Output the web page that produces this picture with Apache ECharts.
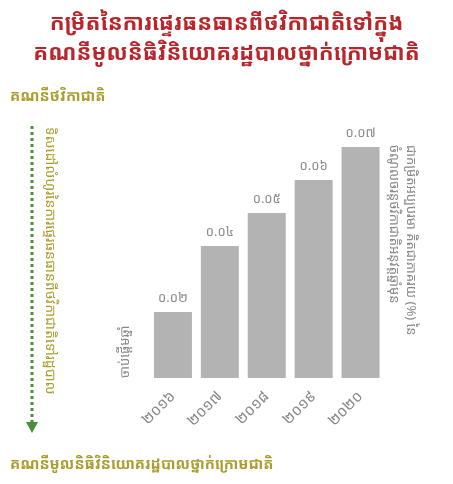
<!DOCTYPE html>
<html><head><meta charset="utf-8">
<script src="https://cdn.jsdelivr.net/npm/echarts@6/dist/echarts.min.js"></script>
<style>html,body{margin:0;padding:0;background:#fff}#c{width:453px;height:484px}</style>
</head><body><div id="c"></div>
<script>
const titleLines = ['កម្រិតនៃការផ្ទេរធនធានពីថវិកាជាតិទៅក្នុង', 'គណនីមូលនិធិវិនិយោគរដ្ឋបាលថ្នាក់ក្រោមជាតិ'];
const topLabel = 'គណនីថវិកាជាតិ';
const bottomLabel = 'គណនីមូលនិធិវិនិយោគរដ្ឋបាលថ្នាក់ក្រោមជាតិ';
const flowLabel = 'ទិសដៅលំហូរនៃការផ្ទេរធនធានពីថវិកាជាតិទៅរដ្ឋបាល';
const startLabel = 'ចាប់ផ្ដើមឆ្នាំ';
const unitLines = ['ជាកម្រិតអប្បបរមា គិតជាភាគរយ (%) នៃ', 'ចំណូលចរន្តថវិកាជាតិអនុវត្តឆ្នាំមុន'];
const categories = ['2016', '2017', '2018', '2019', '2020'];
const values = [0.02, 0.04, 0.05, 0.06, 0.07];

const KD = '០១២៣៤៥៦៧៨៩';
const kh = s => String(s).replace(/[0-9]/g, d => KD[+d]);
const FONT = '"Noto Sans Khmer","Khmer OS","Khmer OS System","Noto Sans",sans-serif';
const olive = '#a99d2e';

const chart = echarts.init(document.getElementById('c'), null, {renderer: 'canvas'});
chart.setOption({
  backgroundColor: '#fff',
  animation: false,
  title: {
    text: titleLines.join('\n'),
    left: 'center', top: 4,
    textStyle: {fontFamily: FONT, fontSize: 22, fontWeight: 'bold', color: '#b8262b', lineHeight: 30}
  },
  grid: {left: 149.5, right: 453 - 384, top: 147, bottom: 106},
  xAxis: {
    type: 'category', data: categories,
    axisLine: {show: false}, axisTick: {show: false},
    axisLabel: {rotate: 45, color: '#888', fontSize: 15, fontFamily: FONT, margin: 16, formatter: v => kh(v)}
  },
  yAxis: {type: 'value', min: 0, max: 0.07, show: false, splitLine: {show: false}},
  series: [{
    type: 'bar', data: values, barCategoryGap: '19%',
    itemStyle: {color: '#b3b3b3'},
    label: {show: true, position: 'top', distance: 7, color: '#8a8a8a', fontSize: 13, fontFamily: FONT,
      formatter: p => kh(p.value.toFixed(2))}
  }],
  graphic: [
    {type: 'text', left: 10, top: 89, style: {text: topLabel, font: 'bold 15px ' + FONT, fill: olive}},
    {type: 'text', left: 10, top: 457, style: {text: bottomLabel, font: 'bold 15px ' + FONT, fill: olive}},
    {type: 'line', shape: {x1: 32, y1: 126, x2: 32, y2: 424},
      style: {stroke: '#4a8f3c', lineWidth: 3, lineDash: [3, 3]}},
    {type: 'polygon', shape: {points: [[26, 422], [38, 422], [32, 433]]}, style: {fill: '#4a8f3c'}},
    {type: 'text', x: 50, y: 127, rotation: -Math.PI / 2,
      style: {text: flowLabel, font: '14px ' + FONT, fill: olive, align: 'left', verticalAlign: 'middle'}},
    {type: 'text', x: 125, y: 378, rotation: Math.PI / 2,
      style: {text: startLabel, font: '13px ' + FONT, fill: '#888', align: 'left', verticalAlign: 'middle'}},
    {type: 'text', x: 411, y: 145, rotation: -Math.PI / 2,
      style: {text: unitLines[0], font: '13px ' + FONT, fill: '#888', align: 'left', verticalAlign: 'middle'}},
    {type: 'text', x: 394, y: 145, rotation: -Math.PI / 2,
      style: {text: unitLines[1], font: '13px ' + FONT, fill: '#888', align: 'left', verticalAlign: 'middle'}}
  ]
});
</script></body></html>
